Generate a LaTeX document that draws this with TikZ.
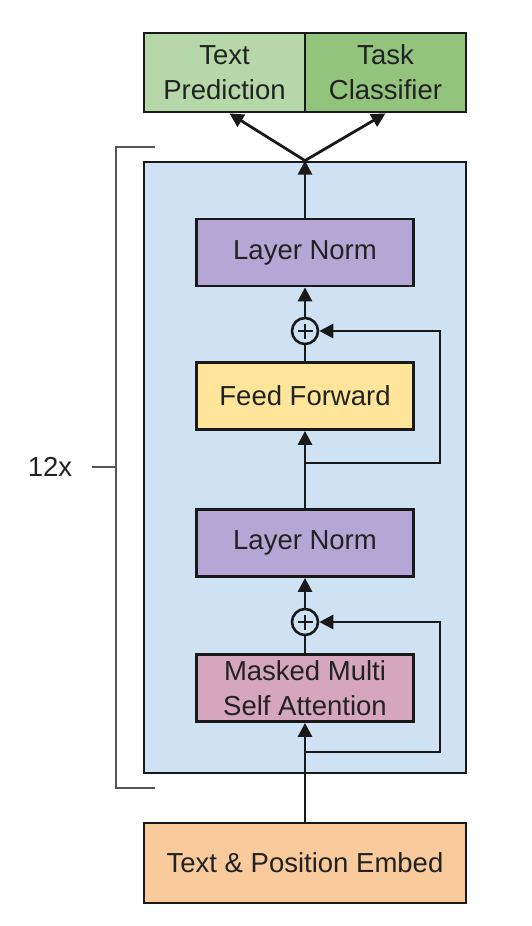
\documentclass[tikz,border=0pt]{standalone}
\usepackage{fontspec}
\setmainfont{Liberation Sans}
\usetikzlibrary{arrows.meta}
\definecolor{txtc}{HTML}{222222}
\definecolor{greenA}{HTML}{B6D7A8}
\definecolor{greenB}{HTML}{93C47D}
\definecolor{blockblue}{HTML}{CFE2F3}
\definecolor{purp}{HTML}{B4A7D6}
\definecolor{yell}{HTML}{FFE599}
\definecolor{pinkc}{HTML}{D5A6BD}
\definecolor{orng}{HTML}{F9CB9C}
\definecolor{brk}{HTML}{555555}
\begin{document}
\begin{tikzpicture}[x=1pt,y=-1pt,
  box/.style={draw=black!90, line width=2.8pt, minimum width=217pt, minimum height=67pt, inner sep=0pt, align=center, text=txtc, font=\fontsize{27.5}{35}\selectfont},
  wbox/.style={box, minimum width=161pt, minimum height=79pt},
  plusnode/.style={draw=black!90, circle, line width=2.6pt, minimum size=26pt, inner sep=0pt},
  conn/.style={draw=black!90, line width=2.8pt},
  arr/.style={conn, -{Triangle[length=14pt,width=14pt]}}]
\useasboundingbox (0,0) rectangle (532,926);
% bracket
\draw[brk, line width=1.4pt] (155,147) -- (116,147) -- (116,788) -- (155,788);
\draw[brk, line width=1.4pt] (92,467) -- (116,467);
\node[text=txtc, font=\fontsize{27.5}{33}\selectfont] (rep) at (50,467) {12x};
% main block
\node[draw=black!90, line width=2.8pt, fill=blockblue, minimum width=322pt, minimum height=611pt, inner sep=0pt] (block) at (305,467.5) {};
% output heads
\node[wbox, fill=greenA] (tp) at (224.5,72.5) {Text\\Prediction};
\node[wbox, fill=greenB] (tc) at (385.5,72.5) {Task\\Classifier};
% inner boxes
\node[box, fill=purp] (ln2) at (305,252.5) {Layer Norm};
\node[plusnode] (p2) at (305,331) {};
\node[box, fill=yell] (ff) at (305,396) {Feed Forward};
\node[box, fill=purp] (ln1) at (305,543) {Layer Norm};
\node[plusnode] (p1) at (305,622) {};
\node[box, fill=pinkc] (att) at (305,688) {Masked Multi\\Self Attention};
\node[box, fill=orng, minimum width=322pt, minimum height=80pt] (emb) at (305,863) {Text \& Position Embed};
% plus signs
\draw[conn, line width=2.4pt] ([xshift=-7.5pt]p2.center) -- ([xshift=7.5pt]p2.center);
\draw[conn, line width=2.4pt] ([yshift=-7.5pt]p2.center) -- ([yshift=7.5pt]p2.center);
\draw[conn, line width=2.4pt] ([xshift=-7.5pt]p1.center) -- ([xshift=7.5pt]p1.center);
\draw[conn, line width=2.4pt] ([yshift=-7.5pt]p1.center) -- ([yshift=7.5pt]p1.center);
% coordinates
\coordinate (split) at (block.north);
\coordinate (r1) at (305,752);
\coordinate (r2) at (305,463);
% connectors
\draw[arr] (emb.north) -- (att.south);
\draw[conn] (att.north) -- (p1.south);
\draw[arr] (p1.north) -- (ln1.south);
\draw[arr] (ln1.north) -- (ff.south);
\draw[conn] (ff.north) -- (p2.south);
\draw[arr] (p2.north) -- (ln2.south);
\draw[arr] (ln2.north) -- (split);
\draw[arr] (r1) -- ++(135,0) |- (p1.east);
\draw[arr] (r2) -- ++(135,0) |- (p2.east);
\draw[arr] (split) -- ([xshift=5pt]tp.south);
\draw[arr] (split) -- ([xshift=0pt]tc.south);
\end{tikzpicture}
\end{document}
